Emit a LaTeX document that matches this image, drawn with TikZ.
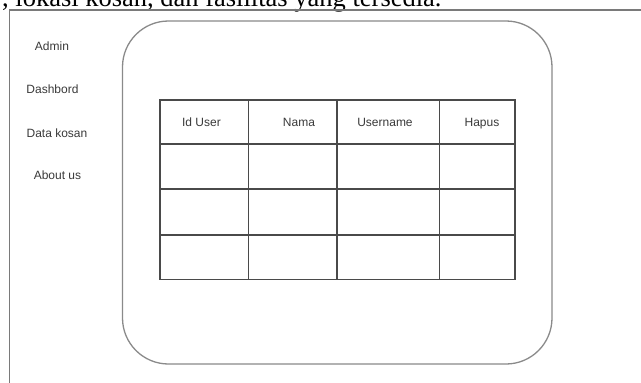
\documentclass[tikz,border=0pt]{standalone}
\usepackage{fontspec}
\setmainfont{Liberation Sans}
\newfontfamily\serifbody{Liberation Serif}
\definecolor{framegray}{HTML}{7A7A7A}
\definecolor{panelgray}{HTML}{8A8A8A}
\definecolor{gridgray}{HTML}{4A4A4A}
\definecolor{labelgray}{HTML}{3A3A3A}
\begin{document}
\begin{tikzpicture}[x=1pt,y=-1pt,
  menu/.style={anchor=base, font=\fontsize{12}{14}\selectfont, text=labelgray, inner sep=0pt},
  head/.style={anchor=base, font=\fontsize{12}{14}\selectfont, text=labelgray, inner sep=0pt},
  grid/.style={draw=gridgray, line width=1.2pt},
  panel/.style={draw=panelgray, line width=1.3pt, rounded corners=46pt}]
\useasboundingbox (0,0) rectangle (641,383);
\clip (0,0) rectangle (641,383);
\fill[white] (0,0) rectangle (641,383);
% cropped document line at the top
\node[anchor=base west, inner sep=0pt, font=\serifbody\fontsize{26.5}{30}\selectfont] (doctext) at (2,6) {, lokasi kosan, dan fasilitas yang tersedia.};
% outer frame
\coordinate (ftl) at (9.5,10);
\coordinate (ftr) at (645,10);
\coordinate (fbl) at (9.5,390);
\draw[framegray, line width=1.6pt] (fbl) -- (ftl) -- (ftr);
% menu labels
\node[menu] (admin) at (52,50.5) {Admin};
\node[menu] (dash) at (52.5,93.5) {Dashbord};
\node[menu] (data) at (57,137.5) {Data kosan};
\node[menu] (about) at (57.5,179.5) {About us};
% rounded panel
\draw[panel] (122.5,21) rectangle (552,364);
% table
\coordinate (t00) at (160,100);
\coordinate (t11) at (515,279.5);
\draw[grid] (t00) rectangle (t11);
\foreach \x/\n in {248.5/a,337/b,439.5/c}{
  \draw[grid] (\x,100) -- (\x,279.5);
}
\foreach \y in {144,189,235}{
  \draw[grid] (160,\y) -- (515,\y);
}
\node[head] (iduser) at (201.5,126.5) {Id User};
\node[head] (nama) at (299,126.5) {Nama};
\node[head] (uname) at (385,126.5) {Username};
\node[head] (hapus) at (482,126.5) {Hapus};
\end{tikzpicture}
\end{document}
